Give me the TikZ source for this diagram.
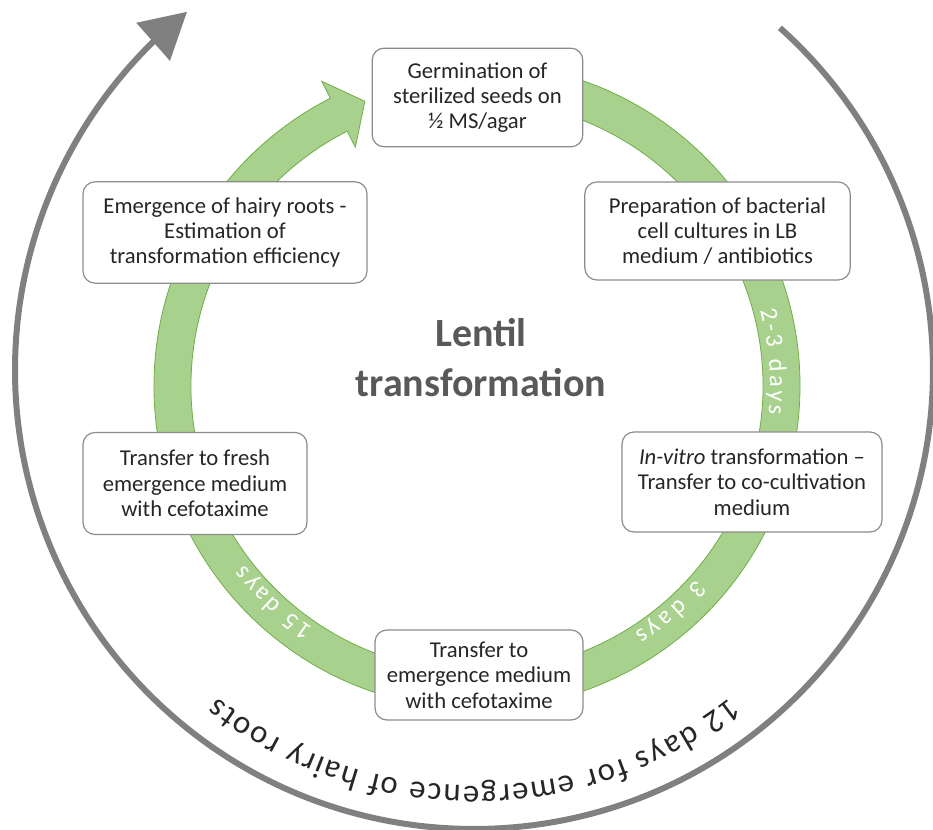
\documentclass[tikz,border=0pt]{standalone}
\usepackage{fontspec}
\setmainfont{Carlito}
\usetikzlibrary{arrows.meta,bending,decorations.text,calc}

\definecolor{bandfill}{RGB}{169,209,142}
\definecolor{bandline}{RGB}{112,173,71}
\definecolor{cyclegrey}{RGB}{128,128,128}
\definecolor{boxline}{RGB}{140,140,140}
\definecolor{titlegrey}{RGB}{89,89,89}
\definecolor{darktext}{RGB}{38,38,38}

\tikzset{
  stepbox/.style={draw=boxline, fill=white, rounded corners=9pt, line width=0.9pt,
    align=center, text=darktext, font=\fontsize{17}{19}\selectfont, inner sep=0pt},
  bandlabel/.style={decorate, decoration={text along path, text align={fit to path},
    text color=white, text={|\fontsize{18.5}{20}\selectfont|#1}}},
  daylabel/.style={decorate, decoration={text along path, text align={fit to path},
    text color=darktext, text={|\fontsize{24.5}{28}\selectfont|#1}}}
}

\begin{document}
\begin{tikzpicture}[x=0.75pt,y=0.75pt,yscale=-1,xscale=1]
\useasboundingbox (0,0) rectangle (933,830);
\coordinate (ctr) at (477,386);
\coordinate (rim) at (474,370);

%Outer arc
\draw [cyclegrey, line width=4.5pt, -{Triangle[length=34pt,width=37pt]}] ($(rim)+(-48.2:459)$) arc [start angle=-48.2, end angle=231.3, radius=459];
\path [daylabel={12 days for emergence of hairy roots}] ($(rim)+(52:416)$) arc [start angle=52, end angle=128, radius=416];

%Green cycle arrow
\draw [bandline, fill=bandfill, line width=0.6pt] ($(ctr)+(-85:323)$) arc [start angle=-85, end angle=243, radius=323] -- ($(ctr)+(243:342)$) -- ($(ctr)+(248.5:306)$) -- ($(ctr)+(243:268)$) -- ($(ctr)+(243:286)$) arc [start angle=243, end angle=-85, radius=286] -- cycle;
\path [bandlabel={2-3 days}] ($(ctr)+(-15:293)$) arc [start angle=-15, end angle=5.5, radius=293];
\path [bandlabel={3 days}] ($(ctr)+(41.4:293)$) arc [start angle=41.4, end angle=57.5, radius=293];
\path [bandlabel={15 days}] ($(ctr)+(124:293)$) arc [start angle=124, end angle=142.4, radius=293];

% Text Node
\node [stepbox, minimum width=158pt, minimum height=74pt] (germination) at (477.5,97.5) {Germination of\\sterilized seeds on\\½ MS/agar};
% Text Node
\node [stepbox, minimum width=199pt, minimum height=73.5pt] (bacteria) at (717.5,231) {Preparation of bacterial\\cell cultures in LB\\medium / antibiotics};
% Text Node
\node [stepbox, minimum width=195pt, minimum height=75pt] (invitro) at (752,482) {\textit{In-vitro} transformation --\\Transfer to co-cultivation\\medium};
% Text Node
\node [stepbox, minimum width=156pt, minimum height=67.5pt] (emergence) at (479,675) {Transfer to\\emergence medium\\with cefotaxime};
% Text Node
\node [stepbox, minimum width=168pt, minimum height=76.5pt] (fresh) at (195,483.5) {Transfer to fresh\\emergence medium\\with cefotaxime};
% Text Node
\node [stepbox, minimum width=213pt, minimum height=76pt] (hairy) at (225,232.5) {Emergence of hairy roots -\\Estimation of\\transformation efficiency};

% Text Node
\node [font=\bfseries\fontsize{30}{37.5}\selectfont, text=titlegrey, align=center] (title) at (481,358) {Lentil\\transformation};

\end{tikzpicture}
\end{document}
